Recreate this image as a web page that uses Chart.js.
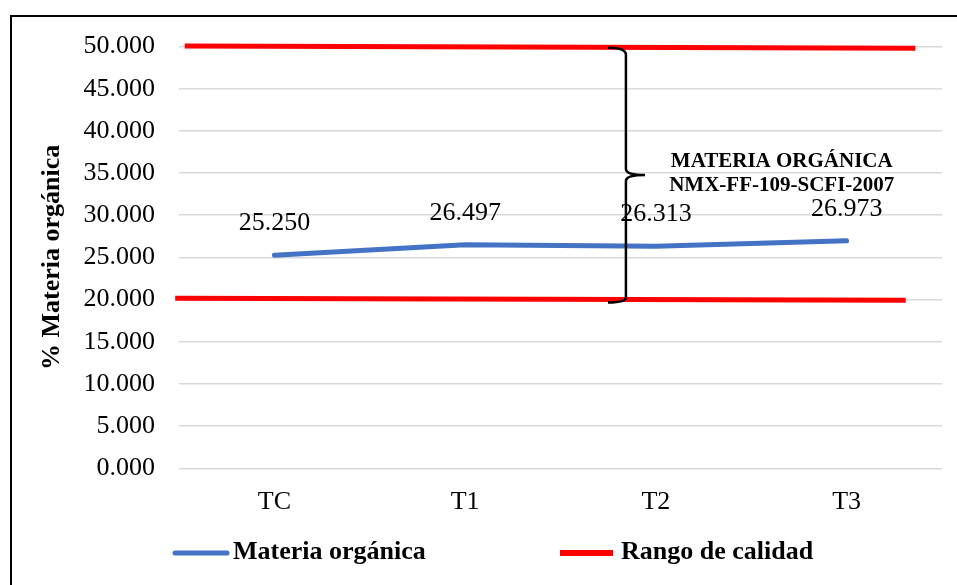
<!DOCTYPE html>
<html>
<head>
<meta charset="utf-8">
<script src="https://cdn.jsdelivr.net/npm/chart.js@4.4.1/dist/chart.umd.min.js"></script>
<style>
  html, body { margin: 0; padding: 0; background: #fff; }
  #wrap { position: relative; width: 957px; height: 585px; overflow: hidden; }
  #frame { position: absolute; left: 10px; top: 15px; width: 1000px; height: 700px;
           border-left: 2px solid #000; border-top: 2px solid #000; }
  canvas { position: absolute; left: 0; top: 0; }
</style>
</head>
<body>
<div id="wrap">
  <div id="frame"></div>
  <canvas id="c" width="957" height="585"></canvas>
</div>
<script>
// ---- data ----
const categories = ['TC', 'T1', 'T2', 'T3'];
const materiaOrganica = [25.250, 26.497, 26.313, 26.973];
// quality range lines (hand-drawn in original)
const rangoSuperiorX = [-0.47, 3.36];
const rangoSuperiorY = [50.06, 49.79];
const rangoInferiorX = [-0.52, 3.31];
const rangoInferiorY = [20.17, 19.93];
// brace annotation (data space)
const braceX = { left: 1.749, stem: 1.843, tip: 1.943 };
const braceY = { top: 49.86, tip: 34.78, bottom: 19.64 };
const braceText = ['MATERIA ORGÁNICA', 'NMX-FF-109-SCFI-2007'];
const yTicks = { min: 0, max: 50, step: 5 };
const seriesNames = ['Materia orgánica', 'Rango de calidad'];

const SERIF = "'Liberation Serif', 'Times New Roman', serif";
const BLUE = '#4472C4';
const RED = '#FF0000';

function toXY(xs, ys) { return xs.map((x, i) => ({ x: x, y: ys[i] })); }

const dataLabelsPlugin = {
  id: 'dataLabels',
  afterDatasetsDraw(chart) {
    const ctx = chart.ctx;
    const meta = chart.getDatasetMeta(0);
    ctx.save();
    ctx.font = '26px ' + SERIF;
    ctx.fillStyle = '#000';
    ctx.textAlign = 'center';
    ctx.textBaseline = 'middle';
    meta.data.forEach((pt, i) => {
      ctx.fillText(materiaOrganica[i].toFixed(3), pt.x, pt.y - 32);
    });
    ctx.restore();
  }
};

const bracePlugin = {
  id: 'brace',
  afterDatasetsDraw(chart) {
    const ctx = chart.ctx;
    const xs = chart.scales.x2, ys = chart.scales.y;
    const xl = xs.getPixelForValue(braceX.left);
    const xv = xs.getPixelForValue(braceX.stem);
    const xt = xs.getPixelForValue(braceX.tip);
    const yt = ys.getPixelForValue(braceY.top);
    const ym = ys.getPixelForValue(braceY.tip);
    const yb = ys.getPixelForValue(braceY.bottom);
    ctx.save();
    ctx.strokeStyle = '#000';
    ctx.lineWidth = 2.5;
    ctx.lineCap = 'butt';
    ctx.beginPath();
    ctx.moveTo(xl, yt);
    ctx.quadraticCurveTo(xv, yt, xv, yt + 7);
    ctx.lineTo(xv, ym - 6);
    ctx.quadraticCurveTo(xv, ym, xt, ym);
    ctx.moveTo(xt, ym);
    ctx.quadraticCurveTo(xv, ym, xv, ym + 6);
    ctx.lineTo(xv, yb - 5);
    ctx.quadraticCurveTo(xv, yb, xl, yb);
    ctx.stroke();
    // label
    ctx.font = 'bold 21px ' + SERIF;
    ctx.fillStyle = '#000';
    ctx.textAlign = 'center';
    ctx.textBaseline = 'middle';
    const cx = xs.getPixelForValue(2.66);
    ctx.fillText(braceText[0], cx, ym - 13);
    ctx.fillText(braceText[1], cx, ym + 11);
    ctx.restore();
  }
};

const legendPlugin = {
  id: 'customLegend',
  afterDraw(chart) {
    const ctx = chart.ctx;
    const y = 553;
    ctx.save();
    ctx.font = 'bold 26px ' + SERIF;
    ctx.fillStyle = '#000';
    ctx.textBaseline = 'middle';
    ctx.textAlign = 'left';
    // series 1
    ctx.strokeStyle = chart.data.datasets[0].borderColor;
    ctx.lineWidth = 5;
    ctx.lineCap = 'round';
    ctx.beginPath(); ctx.moveTo(175, y); ctx.lineTo(227, y); ctx.stroke();
    ctx.fillText(seriesNames[0], 233, y - 1);
    // series 2
    ctx.strokeStyle = chart.data.datasets[1].borderColor;
    ctx.lineWidth = 6;
    ctx.lineCap = 'butt';
    ctx.beginPath(); ctx.moveTo(560, y); ctx.lineTo(613, y); ctx.stroke();
    ctx.fillText(seriesNames[1], 621, y - 1);
    ctx.restore();
  }
};

new Chart(document.getElementById('c'), {
  type: 'line',
  data: {
    labels: categories,
    datasets: [
      {
        label: seriesNames[0],
        data: materiaOrganica,
        borderColor: BLUE,
        backgroundColor: BLUE,
        borderWidth: 5,
        borderCapStyle: 'round',
        borderJoinStyle: 'round',
        pointRadius: 0,
        tension: 0,
        xAxisID: 'x',
        order: 0
      },
      {
        label: seriesNames[1],
        data: toXY(rangoSuperiorX, rangoSuperiorY),
        borderColor: RED,
        borderWidth: 5,
        pointRadius: 0,
        xAxisID: 'x2',
        clip: false,
        order: 1
      },
      {
        label: seriesNames[1],
        data: toXY(rangoInferiorX, rangoInferiorY),
        borderColor: RED,
        borderWidth: 5,
        pointRadius: 0,
        xAxisID: 'x2',
        clip: false,
        order: 1
      }
    ]
  },
  options: {
    responsive: false,
    animation: false,
    devicePixelRatio: 1,
    layout: { padding: { left: 0, right: 15, top: 46.5, bottom: 49.5 } },
    plugins: { legend: { display: false }, tooltip: { enabled: false } },
    scales: {
      x: {
        type: 'category',
        offset: true,
        grid: { display: false, drawTicks: false },
        border: { display: false },
        ticks: { color: '#000', font: { family: SERIF, size: 26 }, padding: 18 }
      },
      x2: {
        type: 'linear',
        display: false,
        min: -0.5,
        max: 3.5
      },
      y: {
        min: yTicks.min,
        max: yTicks.max,
        afterFit(scale) { scale.width = 179; },
        grid: { color: '#d9d9d9', lineWidth: 1.5, drawTicks: false },
        border: { display: false },
        ticks: {
          stepSize: yTicks.step,
          color: '#000',
          padding: 24,
          font: { family: SERIF, size: 26 },
          callback: (v) => Number(v).toFixed(3)
        },
        title: {
          display: true,
          text: '% ' + seriesNames[0],
          color: '#000',
          font: { family: SERIF, size: 26, weight: 'bold' },
          padding: { top: 37, bottom: 0 }
        }
      }
    }
  },
  plugins: [dataLabelsPlugin, bracePlugin, legendPlugin]
});
</script>
</body>
</html>
